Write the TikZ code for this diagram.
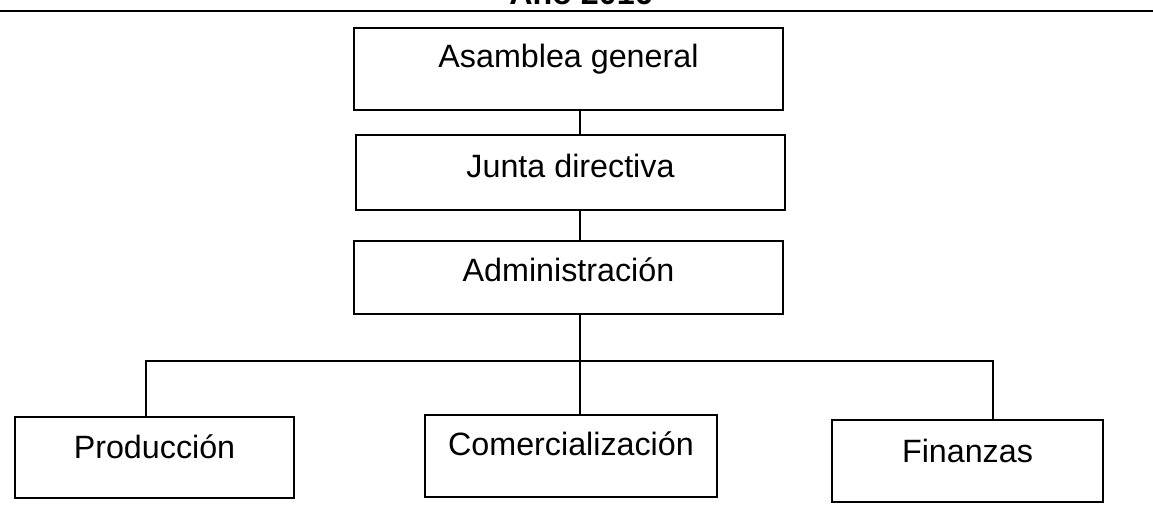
\documentclass[tikz,border=0pt]{standalone}
\usepackage{fontspec}
\setmainfont{Liberation Sans}
\usepackage{tikz}

\begin{document}
\begin{tikzpicture}[x=0.75pt,y=-0.75pt,line width=1.5pt,
    caja/.style={draw,anchor=north west,inner sep=0pt,text height=30pt,font=\fontsize{24.2}{29}\selectfont}]
            \useasboundingbox (0,0) rectangle (1153,510);
            \clip (0,0) rectangle (1153,510);
            \node[font=\bfseries\fontsize{24.2}{29}\selectfont,anchor=base] (titulo) at (581,5) {Año 2016};
            \draw (0,11) -- (1153,11);
            \node[caja,minimum width=321.75pt,text depth=31.5pt] (asamblea) at (353,27) {Asamblea general};
            \node[caja,minimum width=321.75pt,text height=31.5pt,text depth=24.75pt] (junta) at (355,134) {Junta directiva};
            \node[caja,minimum width=321.75pt,text depth=24.75pt] (admin) at (353,240) {Administración};
            \node[caja,minimum width=209.25pt,text height=30.75pt,text depth=30pt] (prod) at (14,416) {Producción};
            \node[caja,minimum width=219pt,text depth=31.5pt] (comer) at (424,414) {Comercialización};
            \node[caja,minimum width=203.25pt,text height=31.5pt,text depth=30pt] (fin) at (831,419) {Finanzas};
            \coordinate (eje) at (580,361);
            \coordinate (ramaP) at (146,361);
            \coordinate (ramaF) at (993,361);
            \draw (asamblea.south -| eje) -- (junta.north -| eje);
            \draw (junta.south -| eje) -- (admin.north -| eje);
            \draw (admin.south -| eje) -- (comer.north -| eje);
            \draw (ramaP |- prod.north) -- (ramaP) -- (ramaF) -- (ramaF |- fin.north);
\end{tikzpicture}
\end{document}
